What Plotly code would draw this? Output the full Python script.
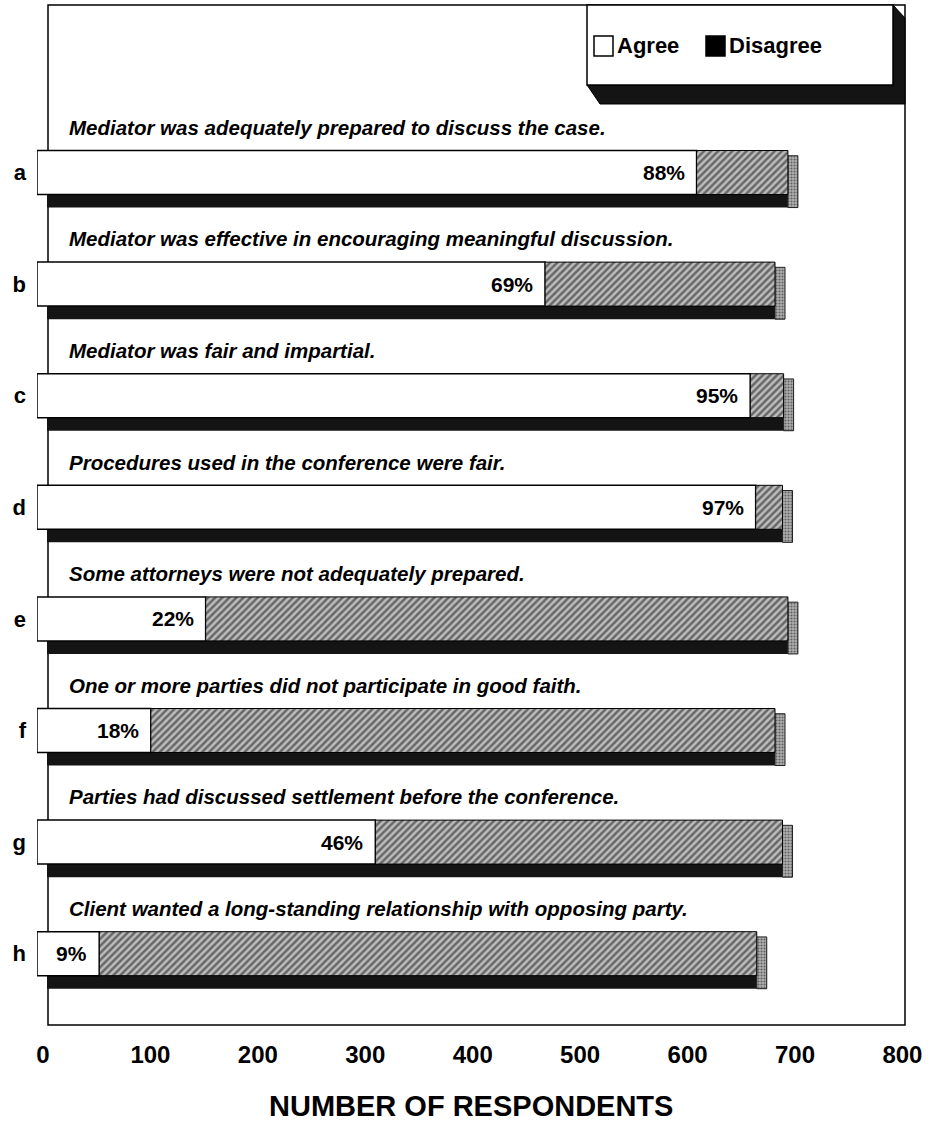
import plotly.graph_objects as go

# survey items, top to bottom
letters = ['a', 'b', 'c', 'd', 'e', 'f', 'g', 'h']
statements = [
  'Mediator was adequately prepared to discuss the case.',
  'Mediator was effective in encouraging meaningful discussion.',
  'Mediator was fair and impartial.',
  'Procedures used in the conference were fair.',
  'Some attorneys were not adequately prepared.',
  'One or more parties did not participate in good faith.',
  'Parties had discussed settlement before the conference.',
  'Client wanted a long-standing relationship with opposing party.',
]
agree = [614, 473, 664, 669, 157, 106, 315, 58]
disagree = [85, 214, 31, 25, 542, 581, 379, 612]
pct_labels = ['88%', '69%', '95%', '97%', '22%', '18%', '46%', '9%']
x_ticks = [0, 100, 200, 300, 400, 500, 600, 700, 800]

FONT = 'Liberation Sans, Arial, sans-serif'

# page geometry (pixels) used for the decorative frame / legend
W, H = 930, 1124
L, R, T, B = 37, 25, 5, 99


def px(x):
  return (x - L) / (W - L - R)


def py(y):
  return (H - B - y) / (H - T - B)


def create_chart():
  pos = list(range(len(letters)))
  totals = [a + d for a, d in zip(agree, disagree)]
  bar_w = 0.394
  depth_y = 0.117   # extrusion of the bars, downwards
  depth_x = 9.3     # extrusion of the bars, to the right

  fig = go.Figure()

  # back of the box (visible as the dark bottom face)
  fig.add_trace(go.Bar(
    y=pos, x=totals, base=[depth_x] * len(pos), orientation='h',
    width=bar_w, offset=-bar_w / 2 + depth_y,
    marker=dict(color='#141414', line=dict(width=0)),
    hoverinfo='skip', showlegend=False,
  ))
  # right side face, dotted
  fig.add_trace(go.Bar(
    y=pos, x=[depth_x] * len(pos), base=totals, orientation='h',
    width=bar_w + depth_y * 0.6, offset=-bar_w / 2 + depth_y * 0.4,
    marker=dict(color='#9a9a9a', line=dict(color='#222', width=1),
                pattern=dict(shape='.', fgcolor='#111', bgcolor='#b0b0b0', size=3, solidity=0.4)),
    hoverinfo='skip', showlegend=False,
  ))
  fig.add_trace(go.Bar(
    name='Agree', y=pos, x=agree, base=[0] * len(pos), orientation='h',
    width=bar_w, offset=-bar_w / 2,
    marker=dict(color='white', line=dict(color='black', width=1.5)),
    showlegend=False,
  ))
  fig.add_trace(go.Bar(
    name='Disagree', y=pos, x=disagree, base=agree, orientation='h',
    width=bar_w, offset=-bar_w / 2,
    marker=dict(color='#8c8c8c', line=dict(color='black', width=1),
                pattern=dict(shape='/', fgcolor='#111', bgcolor='#bdbdbd', size=5, solidity=0.5)),
    showlegend=False,
  ))

  for i in pos:
    fig.add_annotation(
      x=28, y=i - 0.405, xref='x', yref='y', text='<i>' + statements[i] + '</i>',
      showarrow=False, xanchor='left', yanchor='middle',
      font=dict(family=FONT, size=20.5, color='black', weight='bold'),
    )
    fig.add_annotation(
      x=agree[i], y=i, xref='x', yref='y', text=pct_labels[i],
      showarrow=False, xanchor='right', yanchor='middle', xshift=-10,
      font=dict(family=FONT, size=21, color='black', weight='bold'),
    )

  # back wall frame
  shapes = [dict(type='rect', xref='paper', yref='paper',
                 x0=px(48), x1=px(905), y0=py(1025), y1=py(5),
                 line=dict(color='black', width=1.5), layer='below')]

  # legend box with its 3D shadow
  shapes.append(dict(
    type='path', xref='paper', yref='paper',
    path='M {} {} L {} {} L {} {} L {} {} L {} {} L {} {} Z'.format(
      px(587), py(85), px(893), py(85), px(893), py(5),
      px(905), py(18), px(905), py(104), px(600), py(104)),
    fillcolor='#141414', line=dict(color='black', width=1),
  ))
  shapes.append(dict(type='rect', xref='paper', yref='paper',
                     x0=px(587), x1=px(893), y0=py(85), y1=py(5),
                     fillcolor='white', line=dict(color='black', width=1.5)))
  shapes.append(dict(type='rect', xref='paper', yref='paper',
                     x0=px(594), x1=px(613), y0=py(56), y1=py(36),
                     fillcolor='white', line=dict(color='black', width=1.5)))
  shapes.append(dict(type='rect', xref='paper', yref='paper',
                     x0=px(706), x1=px(725), y0=py(56), y1=py(36),
                     fillcolor='black', line=dict(color='black', width=1.5)))

  fig.add_annotation(x=px(615), y=py(46), xref='paper', yref='paper', text='Agree',
                     showarrow=False, xanchor='left', yanchor='middle',
                     font=dict(family=FONT, size=22, color='black', weight='bold'))
  fig.add_annotation(x=px(727), y=py(46), xref='paper', yref='paper', text='Disagree',
                     showarrow=False, xanchor='left', yanchor='middle',
                     font=dict(family=FONT, size=22, color='black', weight='bold'))

  fig.add_annotation(x=px(471), y=py(1106), xref='paper', yref='paper',
                     text='NUMBER OF RESPONDENTS', showarrow=False,
                     xanchor='center', yanchor='middle',
                     font=dict(family=FONT, size=29, color='black', weight='bold'))

  fig.update_layout(
    width=W, height=H,
    margin=dict(l=L, r=R, t=T, b=B, autoexpand=False),
    barmode='overlay',
    plot_bgcolor='white',
    paper_bgcolor='white',
    shapes=shapes,
    font=dict(family=FONT, color='black'),
    xaxis=dict(
      range=[0, 808], tickvals=x_ticks, ticktext=[str(v) for v in x_ticks],
      showgrid=False, zeroline=False, showline=False, ticks='',
      automargin=False, ticklabelshift=6, ticklabelstandoff=13,
      tickfont=dict(family=FONT, size=24, color='black', weight='bold'),
    ),
    yaxis=dict(
      range=[7.639, -1.501], tickvals=pos, ticktext=letters,
      showgrid=False, zeroline=False, showline=False, ticks='',
      automargin=False, ticklabelstandoff=10,
      tickfont=dict(family=FONT, size=22, color='black', weight='bold'),
    ),
  )
  return fig


fig = create_chart()
# the page body has an 8px default margin; drop it so the figure sits at 0,0
fig.write_html("out.html", config={'displayModeBar': False},
               post_script="document.body.style.margin='0';")
